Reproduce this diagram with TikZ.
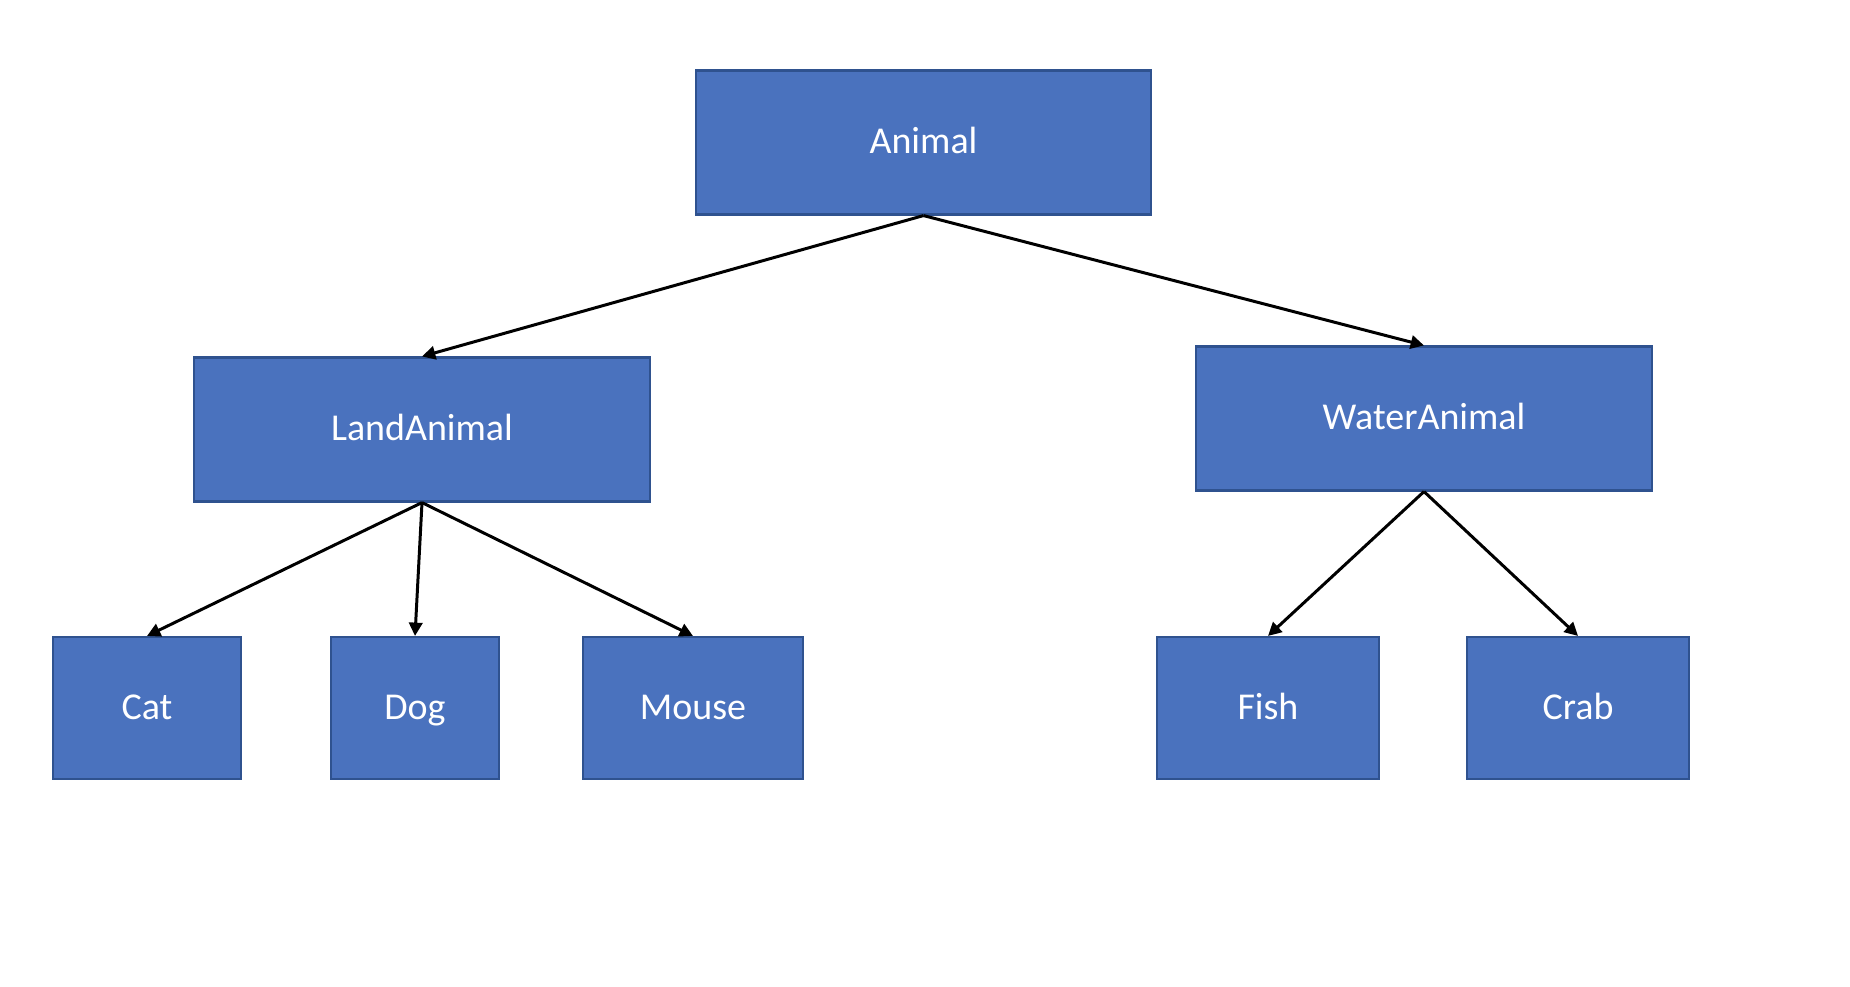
\documentclass[tikz,border=0pt]{standalone}
\usepackage{fontspec}
\setmainfont{Carlito}
\usetikzlibrary{arrows.meta}
\definecolor{BoxBlue}{HTML}{4A72BE}
\definecolor{BoxEdge}{HTML}{2F528F}

\begin{document}
\begin{tikzpicture}[
    animalbox/.style={draw=BoxEdge, fill=BoxBlue, line width=0.6pt, text=white,
        font=\fontsize{10.8}{13}\selectfont, inner sep=0pt, minimum height=1.44cm,
        text height=0.64em, text depth=0pt},
    inherit/.style={-{Triangle[length=3.8pt, width=3.8pt]}, line width=0.85pt, black}
]
    % Page
    \useasboundingbox (0, 0) rectangle (18.5, -9.86);

    % Base class
    \node[animalbox, minimum width=4.55cm] (animal) at (9.235, -1.425) {Animal};

    % Second level
    \node[animalbox, minimum width=4.56cm] (land) at (4.22, -4.295) {LandAnimal};
    \node[animalbox, minimum width=4.56cm] (water) at (14.24, -4.185) {WaterAnimal};

    % Leaves
    \node[animalbox, minimum width=1.88cm, minimum height=1.42cm] (cat) at (1.47, -7.08) {Cat};
    \node[animalbox, minimum width=1.68cm, minimum height=1.42cm] (dog) at (4.15, -7.08) {Dog};
    \node[animalbox, minimum width=2.20cm, minimum height=1.42cm] (mouse) at (6.93, -7.08) {Mouse};
    \node[animalbox, minimum width=2.22cm, minimum height=1.42cm] (fish) at (12.68, -7.08) {Fish};
    \node[animalbox, minimum width=2.22cm, minimum height=1.42cm] (crab) at (15.78, -7.08) {Crab};

    % Arrows
    \draw[inherit] (animal.south) -- (land.north);
    \draw[inherit] (animal.south) -- (water.north);
    \draw[inherit] (land.south) -- (cat.north);
    \draw[inherit] (land.south) -- (dog.north);
    \draw[inherit] (land.south) -- (mouse.north);
    \draw[inherit] (water.south) -- (fish.north);
    \draw[inherit] (water.south) -- (crab.north);
\end{tikzpicture}
\end{document}
